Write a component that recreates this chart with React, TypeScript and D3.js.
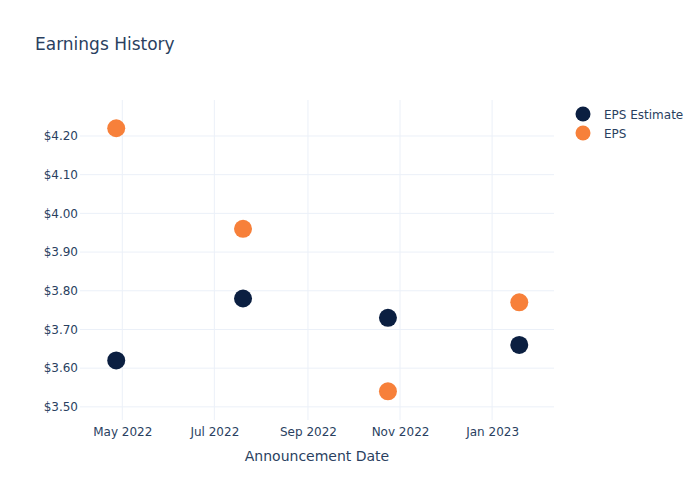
import React, { useRef, useEffect } from 'react';
import { select, scaleLinear, scaleTime, axisLeft, axisBottom, timeMonth, timeFormat, format } from 'd3';

const announceDates = ['2022-04-27', '2022-07-20', '2022-10-24', '2023-01-19'];
const epsEstimate = [3.62, 3.78, 3.73, 3.66];
const epsActual = [4.22, 3.96, 3.54, 3.77];
const yTicks = [3.5, 3.6, 3.7, 3.8, 3.9, 4.0, 4.1, 4.2];
const seriesNames = ['EPS Estimate', 'EPS'];

const W = 700;
const H = 500;
const margin = { top: 100, right: 146, bottom: 80, left: 80 };
const colors = ['#0b1f41', '#f7803a'];
const textColor = '#2a3f5f';
const gridColor = '#ebf0f8';
const font = '"DejaVu Sans", verdana, arial, sans-serif';

const parse = (s: string) => {
  const [y, m, d] = s.split('-').map(Number);
  return new Date(y, m - 1, d);
};

const App: React.FC = () => {
  const svgRef = useRef<SVGSVGElement>(null);

  useEffect(() => {
    const svg = select(svgRef.current as any);
    svg.selectAll('*').remove();

    const innerW = W - margin.left - margin.right;
    const innerH = H - margin.top - margin.bottom;

    const x = scaleTime()
      .domain([new Date(2022, 3, 3), new Date(2023, 1, 11)])
      .range([0, innerW]);
    const y = scaleLinear().domain([3.466, 4.293]).range([innerH, 0]);

    const g = svg.append('g').attr('transform', `translate(${margin.left},${margin.top})`);

    // grid
    const xTicks = timeMonth.every(2)!.range(new Date(2022, 4, 1), new Date(2023, 1, 2));
    g.append('g')
      .selectAll('line')
      .data(xTicks)
      .join('line')
      .attr('x1', d => x(d))
      .attr('x2', d => x(d))
      .attr('y1', 0)
      .attr('y2', innerH)
      .attr('stroke', gridColor)
      .attr('stroke-width', 1);
    g.append('g')
      .selectAll('line')
      .data(yTicks)
      .join('line')
      .attr('x1', 0)
      .attr('x2', innerW)
      .attr('y1', d => y(d))
      .attr('y2', d => y(d))
      .attr('stroke', gridColor)
      .attr('stroke-width', 1);

    // axes
    const yAxis = g
      .append('g')
      .call(axisLeft(y).tickValues(yTicks).tickSize(0).tickPadding(2).tickFormat(d => '$' + format('.2f')(d as number)));
    const xAxis = g
      .append('g')
      .attr('transform', `translate(0,${innerH})`)
      .call(axisBottom(x).tickValues(xTicks).tickSize(0).tickPadding(7).tickFormat(d => timeFormat('%b %Y')(d as Date)));
    [yAxis, xAxis].forEach(a => {
      a.select('.domain').remove();
      a.selectAll('text')
        .attr('fill', textColor)
        .style('font-family', font)
        .style('font-size', '12px');
    });

    // points
    const series = [epsEstimate, epsActual];
    series.forEach((vals, si) => {
      g.append('g')
        .selectAll('circle')
        .data(vals)
        .join('circle')
        .attr('cx', (_, i) => x(parse(announceDates[i])))
        .attr('cy', d => y(d))
        .attr('r', 9)
        .attr('fill', colors[si]);
    });

    // title
    svg
      .append('text')
      .attr('x', 35)
      .attr('y', 50)
      .attr('fill', textColor)
      .style('font-family', font)
      .style('font-size', '17px')
      .text('Earnings History');

    svg
      .append('text')
      .attr('x', margin.left + innerW / 2)
      .attr('y', 461)
      .attr('text-anchor', 'middle')
      .attr('fill', textColor)
      .style('font-family', font)
      .style('font-size', '14px')
      .text('Announcement Date');

    // legend
    const legend = svg.append('g').attr('transform', 'translate(583,114)');
    seriesNames.forEach((name, i) => {
      legend
        .append('circle')
        .attr('cx', 0)
        .attr('cy', i * 19)
        .attr('r', 7.5)
        .attr('fill', colors[i]);
      legend
        .append('text')
        .attr('x', 21)
        .attr('y', i * 19 + 4.5)
        .attr('fill', textColor)
        .style('font-family', font)
        .style('font-size', '12px')
        .text(name);
    });
  }, []);

  return (
    <svg
      ref={svgRef}
      width={W}
      height={H}
      style={{ display: 'block', background: '#fff', position: 'absolute', left: 0, top: 0 }}
    />
  );
};

export default App;
